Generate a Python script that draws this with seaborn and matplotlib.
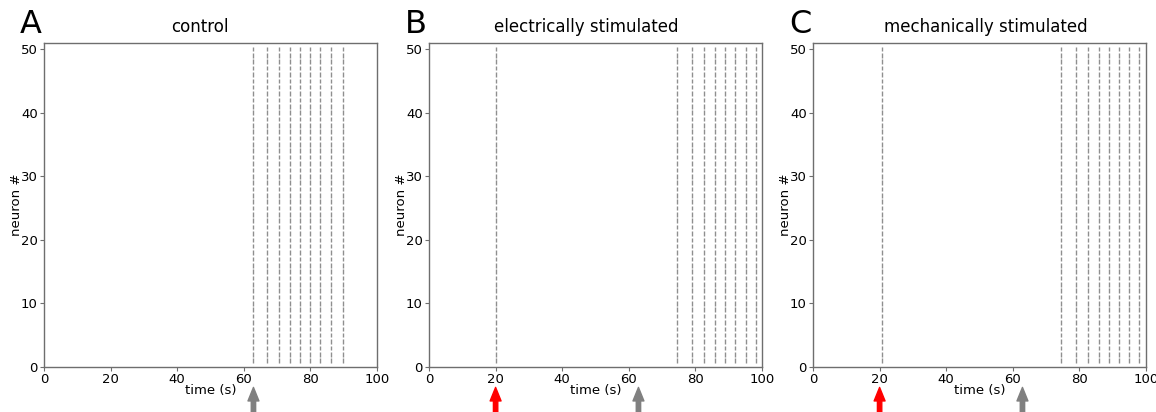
import numpy as np
import matplotlib
matplotlib.use("Agg")
import matplotlib.pyplot as plt
import seaborn as sns

# ---- data ----
panel_letters = ["A", "B", "C"]
panel_titles = ["control", "electrically stimulated", "mechanically stimulated"]
n_neurons = 50
control_bursts = [62.7, 67.1, 70.6, 73.9, 77.0, 80.0, 82.9, 86.1, 89.9]
elec_stim = [20.2]
elec_bursts = [74.6, 78.9, 82.6, 85.8, 88.9, 91.9, 95.1, 98.2]
mech_stim = [20.8]
mech_bursts = [74.6, 79.1, 82.7, 85.9, 88.9, 91.9, 94.9, 98.0]
stim_arrow_time = [None, 20.0, 20.0]
burst_arrow_time = [62.9, 62.9, 62.9]
x_ticks = [0, 20, 40, 60, 80, 100]
y_ticks = [0, 10, 20, 30, 40, 50]

panel_events = [control_bursts, elec_stim + elec_bursts, mech_stim + mech_bursts]

sns.set_theme(style="white")
plt.rcParams['font.family'] = ['DejaVu Sans']
plt.rcParams['text.color'] = 'black'
plt.rcParams['axes.labelcolor'] = 'black'
plt.rcParams['xtick.color'] = 'black'
plt.rcParams['ytick.color'] = 'black'

fig = plt.figure(figsize=(11.56, 4.12), dpi=100)
lefts = [44, 429, 813]
title_x = [0.468, 0.471, 0.52]
ax_w, ax_top, ax_bot = 333, 43, 367
W, H = 1156, 412

spine_col = "#6e6e6e"
for i in range(3):
    ax = fig.add_axes([lefts[i] / W, 1 - ax_bot / H, ax_w / W, (ax_bot - ax_top) / H])
    times = panel_events[i]
    spikes = [list(times) for _ in range(n_neurons)]
    offsets = np.arange(1, n_neurons + 1)
    ax.eventplot(spikes, lineoffsets=offsets, linelengths=0.72,
                 linewidths=1.0, colors="#8f8f8f")
    ax.set_xlim(0, 100)
    ax.set_ylim(0, 50.95)
    ax.set_xticks(x_ticks)
    ax.set_yticks(y_ticks)
    ax.tick_params(axis="both", labelsize=9.5, length=3, width=0.8,
                   color=spine_col, labelcolor="black", pad=1.5, left=True, bottom=True)
    for s in ax.spines.values():
        s.set_color(spine_col)
        s.set_linewidth(1.0)
    ax.set_xlabel("time (s)", fontsize=9.5, labelpad=-1.5)
    ax.set_ylabel("neuron #", fontsize=9.5, labelpad=-1.5)
    ax.set_title(panel_titles[i], fontsize=12, pad=8, x=title_x[i])
    ax.text(-0.072, 1.031, panel_letters[i], transform=ax.transAxes,
            fontsize=23, ha="left", va="baseline", color="black")

    arrows = [(burst_arrow_time[i], "#808080")]
    if stim_arrow_time[i] is not None:
        arrows.append((stim_arrow_time[i], "#ff0000"))
    for t, c in arrows:
        ax.annotate("", xy=(t, -0.063), xytext=(t, -0.15),
                    xycoords=("data", "axes fraction"),
                    textcoords=("data", "axes fraction"),
                    annotation_clip=False,
                    arrowprops=dict(arrowstyle="simple,head_length=1.3,head_width=1.05,tail_width=0.42",
                                    color=c, mutation_scale=7.5, shrinkA=0, shrinkB=0))

fig.savefig("out.png", dpi=100)
